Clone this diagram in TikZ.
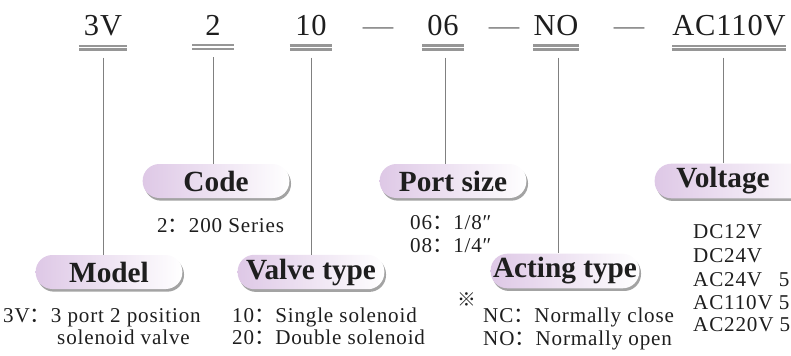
\documentclass[tikz,border=0pt]{standalone}
\usepackage{fontspec}
\setmainfont{Liberation Serif}
\newfontfamily\cjk{Noto Sans CJK SC}
\usetikzlibrary{shadows}

\definecolor{pillpink}{RGB}{222,200,230}
\definecolor{inkgray}{RGB}{30,30,30}
\definecolor{rulegray}{RGB}{150,150,150}
\newcommand{\fwc}{{\cjk ：}}
\newcommand{\refmark}{{\cjk ※}}

\begin{document}
\begin{tikzpicture}[x=0.03cm,y=-0.03cm]
    \tikzstyle{code}=[anchor=base,inner xsep=0pt,inner ysep=0.36cm,text=inkgray,
        font=\fontsize{26}{30}\selectfont\addfontfeatures{LetterSpace=3}]
    \tikzstyle{dashmark}=[anchor=base,inner sep=0pt,text=gray,font=\fontsize{26}{30}\selectfont]
    \tikzstyle{dblrule}=[draw=rulegray,line width=2pt,double=white,double distance=1.3pt]
    \tikzstyle{link}=[draw=gray,line width=0.5pt,shorten <=0.3cm]
    \tikzstyle{pill}=[rectangle,rounded corners=0.5cm,minimum width=4.4cm,minimum height=1.02cm,
        inner xsep=2pt,left color=pillpink,right color=white,text=inkgray,
        drop shadow={shadow xshift=0.05cm,shadow yshift=-0.08cm,fill=gray!80,opacity=0.9},
        font=\fontsize{25}{28}\selectfont\bfseries]
    \tikzstyle{info}=[anchor=base west,inner sep=0pt,text=inkgray,
        font=\fontsize{18}{20}\selectfont\addfontfeatures{LetterSpace=4}]

    \useasboundingbox (0,0) rectangle (791,355);
    \clip (0,0) rectangle (791,355);

    % model code on top
    \foreach \nm/\x/\w/\txt in {c3v/103/48/3V, c2/213/41/2, c10/311/42/10,
                               c06/443/41/06, cno/556/42/NO, cac/729/112/AC110V}
        \node[code,minimum width=\w*0.03cm] (\nm) at (\x,35) {\txt};
    \foreach \nm/\x in {d1/378, d2/504, d3/629}
        \node[dashmark] (\nm) at (\x,35) {—};
    \foreach \nm in {c3v, c2, c10, c06, cno, cac}
        \draw[dblrule] (\nm.south west) -- (\nm.south east);

    % labels
    \node[pill] (model)  at (109,272) {Model};
    \node[pill] (code)   at (216,181) {Code};
    \node[pill] (valve)  at (311,272) {Valve type};
    \node[pill] (port)   at (453,181) {Port size};
    \node[pill] (acting) at (565,271) {Acting type};
    \node[pill,minimum width=5cm] (volt) at (738,181) {Voltage\kern0.9cm};

    \draw[link] (c3v.south) -- (c3v.south |- model.north);
    \draw[link] (c2.south) -- (c2.south |- code.north);
    \draw[link] (c10.south) -- (c10.south |- valve.north);
    \draw[link] ([xshift=0.06cm]c06.south) -- ([xshift=0.06cm]c06.south |- port.north);
    \draw[link] ([xshift=0.06cm]cno.south) -- ([xshift=0.06cm]cno.south |- acting.north);
    \draw[link] ([xshift=-0.18cm]cac.south) -- ([xshift=-0.18cm]cac.south |- volt.north);

    % descriptions
    \node[info] (m1) at (3,322) {3V\fwc 3 port 2 position};
    \node[info] (m2) at (57,344) {solenoid valve};
    \node[info] (s1) at (157,232) {2\fwc 200 Series};
    \node[info] (v1) at (232,322) {10\fwc Single solenoid};
    \node[info] (v2) at (232,344) {20\fwc Double solenoid};
    \node[info] (p1) at (410,229) {06\fwc 1/8″};
    \node[info] (p2) at (410,252) {08\fwc 1/4″};
    \node[inner sep=0pt,text=inkgray,font=\fontsize{16}{16}\selectfont] (note) at (467,300) {\refmark};
    \node[info] (a1) at (483,322) {NC\fwc Normally close};
    \node[info] (a2) at (483,345) {NO\fwc Normally open};
    \foreach \nm/\y/\txt in {u1/238/DC12V, u2/262/DC24V, u3/286/AC24V\hphantom{0} 5,
                            u4/309/AC110V 5, u5/331/AC220V 5}
        \node[info] (\nm) at (693,\y) {\txt};
\end{tikzpicture}
\end{document}
